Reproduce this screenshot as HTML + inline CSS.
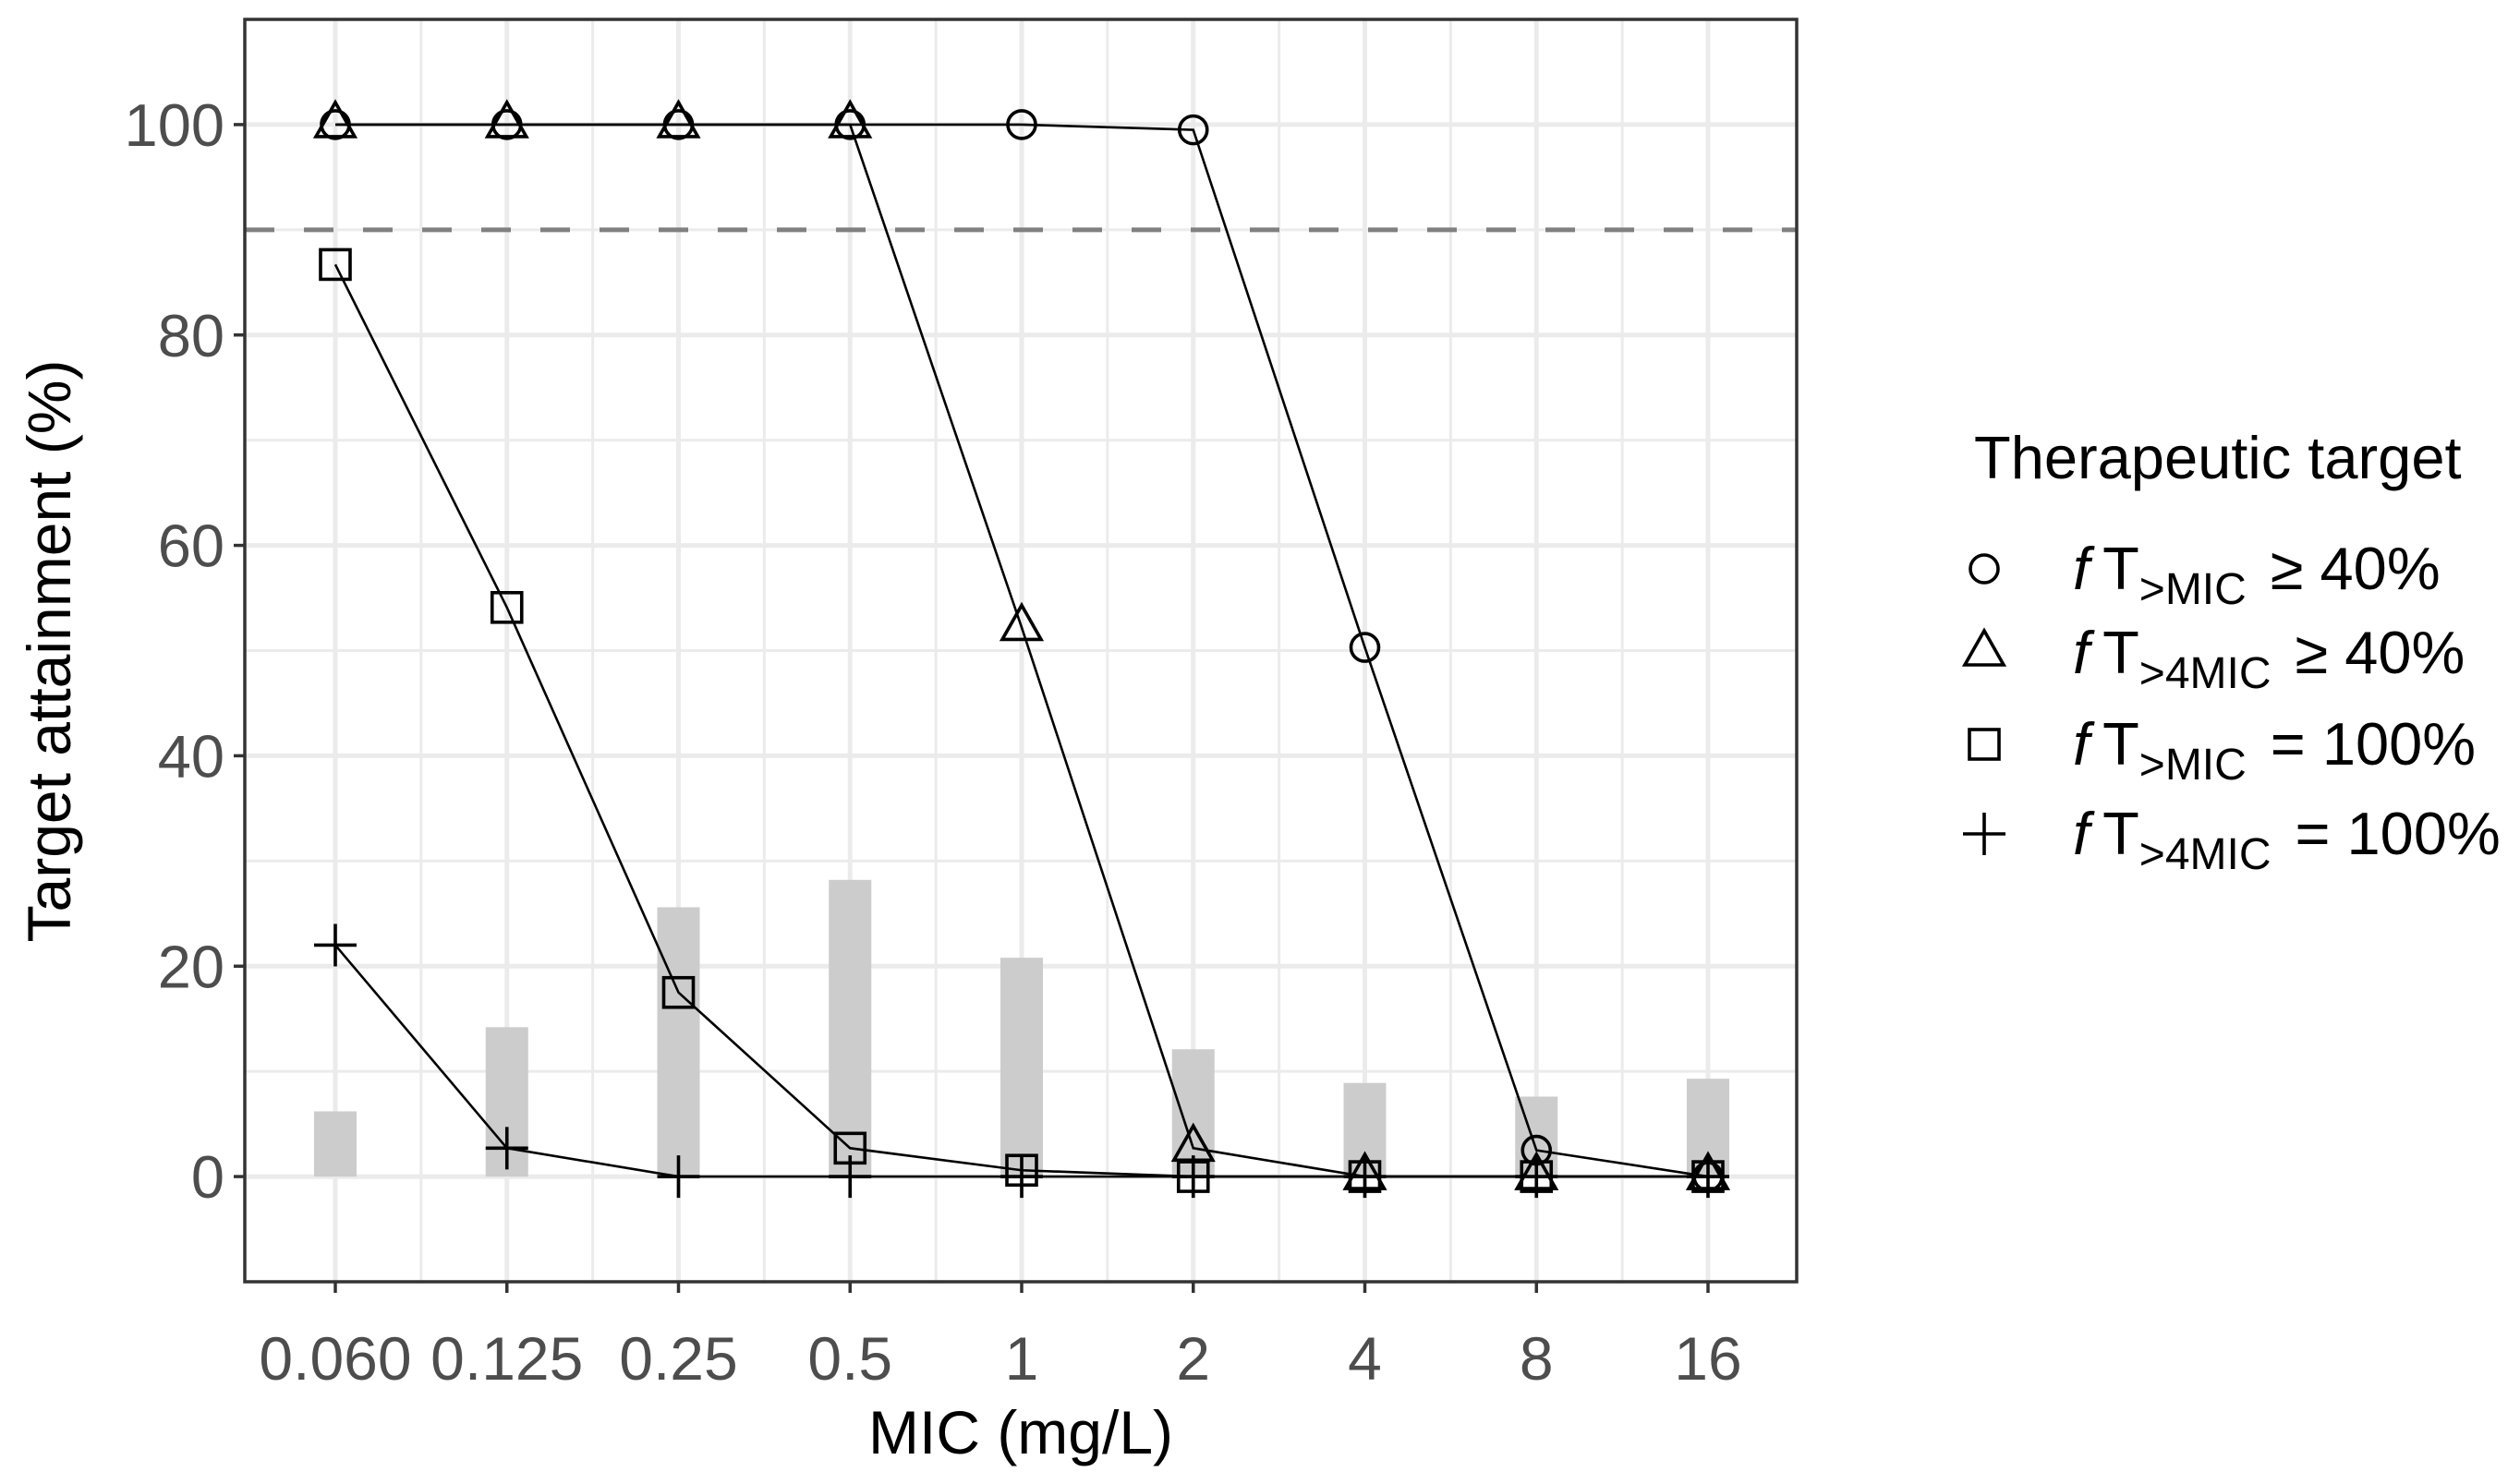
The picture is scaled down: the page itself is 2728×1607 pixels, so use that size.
<!DOCTYPE html>
<html><head><meta charset="utf-8"><style>
html,body{margin:0;padding:0;background:#fff;}
svg{display:block;font-family:"Liberation Sans",sans-serif;}
</style></head><body>
<svg id="chart" width="2728" height="1607" viewBox="0 0 2728 1607" xmlns="http://www.w3.org/2000/svg">
<g id="grid"></g>
<g id="bars"></g>
<g id="ref"></g>
<g id="series"></g>
<g id="axes"></g>
<text x="1105" y="1574" font-size="66" text-anchor="middle" fill="#000">MIC (mg/L)</text>
<text transform="translate(76,705) rotate(-90)" font-size="66" text-anchor="middle" fill="#000">Target attainment (%)</text>
<g id="legend">
<text x="2137" y="518" font-size="65" fill="#000">Therapeutic target</text>
</g>
</svg>
<script>
const categories = ["0.060","0.125","0.25","0.5","1","2","4","8","16"];
const barValues = [6.2,14.2,25.6,28.2,20.8,12.1,8.9,7.6,9.3];
const circleValues = [100,100,100,100,100,99.5,50.3,2.5,0];
const triangleValues = [100,100,100,100,52.2,2.7,0,0,0];
const squareValues = [86.7,54.1,17.5,2.7,0.6,0,0,0,0];
const plusValues = [22,2.7,0,0,0,0,0,0,0];
const yTicks = [0,20,40,60,80,100];
const refValue = 90;

const NS="http://www.w3.org/2000/svg";
const L=265,R=1945,T=21,B=1388,yMin=-10,yMax=110;
const x0=363,dx=185.75;
function xs(i){return x0+i*dx;}
function ys(v){return B-(v-yMin)/(yMax-yMin)*(B-T);}
function mk(tag,attrs,parent){const e=document.createElementNS(NS,tag);for(const k in attrs)e.setAttribute(k,attrs[k]);parent.appendChild(e);return e;}
const grid=document.getElementById('grid'),bars=document.getElementById('bars'),ref=document.getElementById('ref'),series=document.getElementById('series'),axes=document.getElementById('axes'),legend=document.getElementById('legend');

mk('rect',{x:L,y:T,width:R-L,height:B-T,fill:'#fff'},grid);
for(let i=0;i<yTicks.length-1;i++){const v=(yTicks[i]+yTicks[i+1])/2;const l=mk('line',{x1:L,x2:R,y1:ys(v),y2:ys(v),stroke:'#ebebeb','stroke-width':3},grid);}
mk('line',{x1:L,x2:R,y1:ys(-10),y2:ys(-10),stroke:'#ebebeb','stroke-width':3},grid);
mk('line',{x1:L,x2:R,y1:ys(110),y2:ys(110),stroke:'#ebebeb','stroke-width':3},grid);
for(let i=0;i<categories.length-1;i++){const x=xs(i+0.5);const l=mk('line',{x1:x,x2:x,y1:T,y2:B,stroke:'#ebebeb','stroke-width':3},grid);}
yTicks.forEach(v=>{const l=mk('line',{x1:L,x2:R,y1:ys(v),y2:ys(v),stroke:'#ebebeb','stroke-width':5},grid);});
categories.forEach((c,i)=>{const l=mk('line',{x1:xs(i),x2:xs(i),y1:T,y2:B,stroke:'#ebebeb','stroke-width':5},grid);});

barValues.forEach((v,i)=>{const r=mk('rect',{x:xs(i)-23,y:ys(v),width:46,height:ys(0)-ys(v),fill:'#cccccc'},bars);});

{const l=mk('line',{x1:L,x2:R,y1:ys(refValue),y2:ys(refValue),stroke:'#808080','stroke-width':5,'stroke-dasharray':'32 32'},ref);}

function drawLine(vals,name){const pts=vals.map((v,i)=>xs(i)+','+ys(v)).join(' ');const p=mk('polyline',{points:pts,fill:'none',stroke:'#000','stroke-width':2.6},series);}
function marker(shape,cx,cy,parent){
 const st={fill:'none',stroke:'#000','stroke-width':3.6};
 let e;
 if(shape==='circle'){e=mk('circle',Object.assign({cx:cx,cy:cy,r:15},st),parent);}
 else if(shape==='triangle'){e=mk('polygon',Object.assign({points:`${cx},${cy-24} ${cx-21},${cy+13} ${cx+21},${cy+13}`},st),parent);}
 else if(shape==='square'){e=mk('rect',Object.assign({x:cx-16,y:cy-16,width:32,height:32},st),parent);}
 else {e=mk('path',Object.assign({d:`M${cx-23},${cy}H${cx+23}M${cx},${cy-23}V${cy+23}`},st),parent);}
 return e;
}
const defs=[[circleValues,'circle','ft-mic-40'],[triangleValues,'triangle','ft-4mic-40'],[squareValues,'square','ft-mic-100'],[plusValues,'plus','ft-4mic-100']];
defs.forEach(([vals,shape,name])=>{
 drawLine(vals,name);
 vals.forEach((v,i)=>{const e=marker(shape,xs(i),ys(v),series);
 
 });
});

{const r=mk('rect',{x:L,y:T,width:R-L,height:B-T,fill:'none',stroke:'#333','stroke-width':3.5},axes);}
yTicks.forEach(v=>{mk('line',{x1:L-12,x2:L,y1:ys(v),y2:ys(v),stroke:'#333','stroke-width':3.5},axes);
 const t=mk('text',{x:L-22,y:ys(v)+23,'font-size':65,'text-anchor':'end',fill:'#4d4d4d'},axes);t.textContent=v;
 });
categories.forEach((c,i)=>{mk('line',{x1:xs(i),x2:xs(i),y1:B,y2:B+12,stroke:'#333','stroke-width':3.5},axes);
 const t=mk('text',{x:xs(i),y:1494,'font-size':66,'text-anchor':'middle',fill:'#4d4d4d'},axes);t.textContent=c;
 });

const legRows=[['circle','MIC','\u2265 40%',616],['triangle','4MIC','\u2265 40%',707],['square','MIC','= 100%',806],['plus','4MIC','= 100%',903]];
legRows.forEach(([shape,sub,rest,y],k)=>{
 const g=mk('g',{},legend);
 
 
 marker(shape,2148,y,g);
 const t=mk('text',{x:2244,y:y+22,'font-size':65,fill:'#000'},g);
 const f=mk('tspan',{'font-style':'italic'},t);f.textContent='f';
 const tt=mk('tspan',{dx:14},t);tt.textContent='T';
 const s=mk('tspan',{dy:16,'font-size':48},t);s.textContent='>'+sub;
 const r=mk('tspan',{dy:-16,dx:26},t);r.textContent=rest;
});
</script>
</body></html>
